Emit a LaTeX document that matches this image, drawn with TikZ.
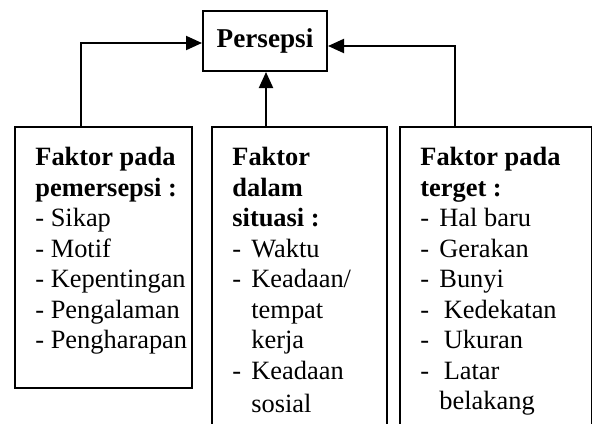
\documentclass[tikz,border=0pt]{standalone}
\usepackage{fontspec}
\setmainfont{Liberation Serif}
\usepackage{tikz}
\usetikzlibrary{arrows.meta, positioning, calc}

\newcommand{\itm}[1]{\makebox[9.5pt][l]{-}#1}
\newcommand{\cont}[1]{\hspace*{9.5pt}#1}

\tikzset{
    % Top box
    main box/.style={
        rectangle,
        draw=black,
        line width=1pt,
        minimum width=62pt,
        minimum height=30pt,
        align=center,
        font=\fontsize{13.6}{15.25}\selectfont\bfseries
    },
    % Factor frames
    factor box/.style={
        rectangle,
        draw=black,
        line width=1pt,
        anchor=north west,
        inner sep=0pt
    },
    % Text in the frames
    factor text/.style={
        anchor=north west,
        inner sep=0pt,
        align=left,
        font=\fontsize{13.2}{15.25}\selectfont
    },
    % Arrows
    flow/.style={
        -{Triangle[length=8pt, width=7pt]},
        line width=1pt,
        color=black
    }
}

\begin{document}
\begin{tikzpicture}[x=0.5pt, y=-0.5pt]
        \useasboundingbox (0,0) rectangle (592,423);
        \clip (0,0) rectangle (592,423);

        % Top
        \node[main box] (persepsi) at (265,41) {Persepsi};

        % Frames
        \node[factor box, minimum width=88.5pt, minimum height=130.5pt] (pem) at (14,126) {};
        \node[factor box, minimum width=87.5pt, minimum height=160pt] (sit) at (211,126) {};
        \node[factor box, minimum width=96pt, minimum height=160pt] (tgt) at (399,126) {};

        % Texts
        \node[factor text] (pemtxt) at (35,147) {\textbf{Faktor pada}\\\textbf{pemersepsi :}\\- Sikap\\- Motif\\- Kepentingan\\- Pengalaman\\- Pengharapan};
        \node[factor text] (sittxt) at (232,147) {\textbf{Faktor}\\\textbf{dalam}\\\textbf{situasi :}\\\itm{Waktu}\\\itm{Keadaan/}\\\cont{tempat}\\\cont{kerja}\\\itm{Keadaan}\\[1.5pt]\cont{sosial}};
        \node[factor text] (tgttxt) at (420,147) {\textbf{Faktor pada}\\\textbf{terget :}\\\itm{Hal baru}\\\itm{Gerakan}\\\itm{Bunyi}\\\itm{\,Kedekatan}\\\itm{\,Ukuran}\\\itm{\,Latar}\\\cont{belakang}};

        % Arrow feet
        \coordinate (pemfoot) at ($(pem.north west)+(67,0)$);
        \coordinate (sitfoot) at ($(sit.north west)+(55,0)$);
        \coordinate (tgtfoot) at ($(tgt.north west)+(56,0)$);

        % Connections
        \draw[flow] (pemfoot) |- ($(persepsi.west)+(0,2)$);
        \draw[flow] (sitfoot) -- (sitfoot |- persepsi.south);
        \draw[flow] (tgtfoot) |- ($(persepsi.east)+(0,5)$);

    \end{tikzpicture}
\end{document}
